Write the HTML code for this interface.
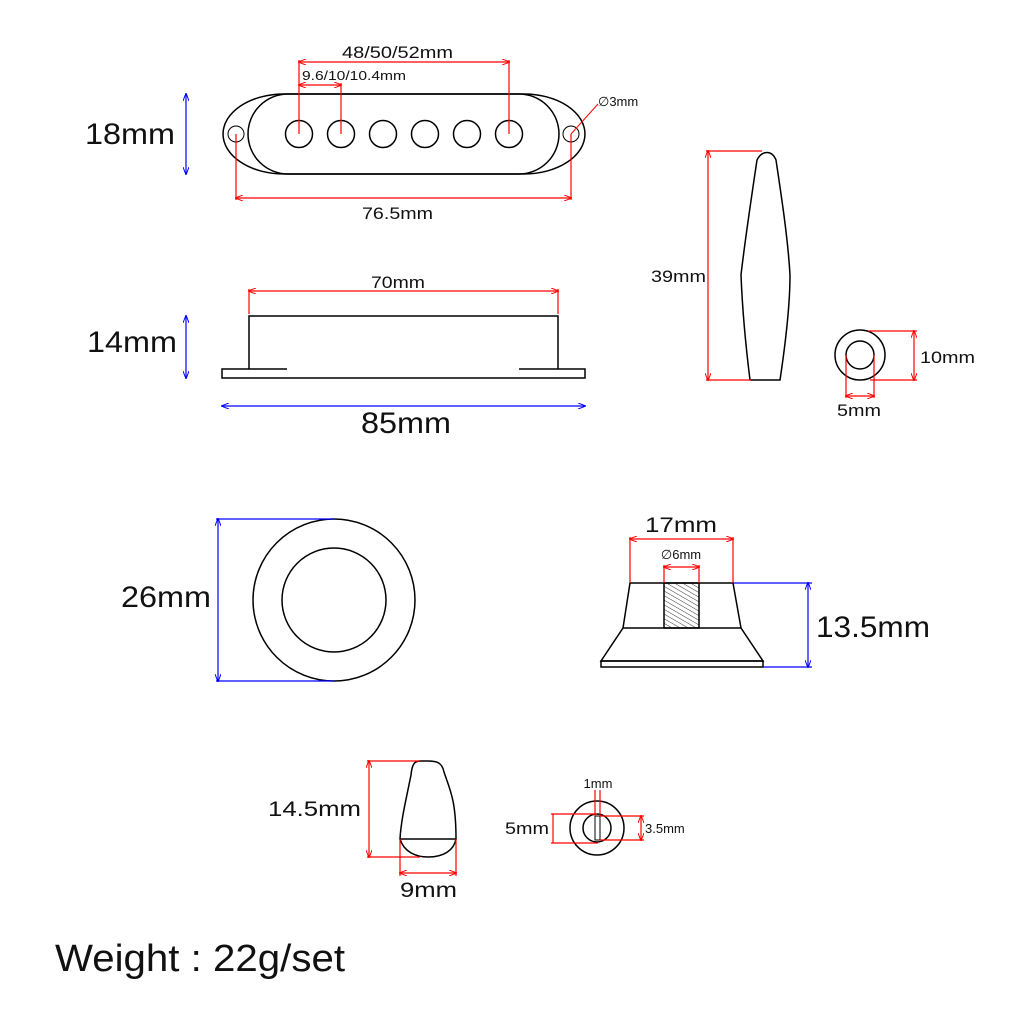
<!DOCTYPE html><html><head><style>body{margin:0;background:#fff}svg{display:block}text{font-family:"Liberation Sans","DejaVu Sans",sans-serif;fill:#111}</style></head><body>
<svg width="1024" height="1024" viewBox="0 0 1024 1024" xmlns="http://www.w3.org/2000/svg">
<defs>
<marker id="ar" markerWidth="8" markerHeight="6" refX="7" refY="3" orient="auto-start-reverse" markerUnits="userSpaceOnUse"><path d="M0,0 L8,3 L0,6" fill="none" stroke="red" stroke-width="1"/></marker>
<marker id="ab" markerWidth="8" markerHeight="6" refX="7" refY="3" orient="auto-start-reverse" markerUnits="userSpaceOnUse"><path d="M0,0 L8,3 L0,6" fill="none" stroke="blue" stroke-width="1"/></marker>
<pattern id="h" width="4" height="4" patternUnits="userSpaceOnUse" patternTransform="rotate(-60)"><line x1="0" y1="0" x2="0" y2="4" stroke="#333" stroke-width="1"/></pattern>
</defs>
<g fill="none" stroke="#000" stroke-width="1.5">
<path d="M284 94 H524 A61 40 0 0 1 524 174 H284 A61 40 0 0 1 284 94Z"/>
<path d="M288 94 H519 A40 40 0 0 1 519 174 H288 A40 40 0 0 1 288 94Z"/>
<circle cx="236" cy="134" r="8" stroke-width="1"/><circle cx="571" cy="134" r="8" stroke-width="1"/>
<circle cx="299" cy="134" r="13.5"/><circle cx="341" cy="134" r="13.5"/><circle cx="383" cy="134" r="13.5"/><circle cx="425" cy="134" r="13.5"/><circle cx="467" cy="134" r="13.5"/><circle cx="509" cy="134" r="13.5"/>
<path d="M249 369 V316 H558 V369"/>
<path d="M287 369 H222 V378 H585 V369 H519"/>
<path d="M750 380 H780 C786 340 790 300 790 275 C788 240 782 200 776 160 C772 150 762 150 757 160 C751 200 745 240 741 275 C742 300 745 340 750 380Z"/>
<circle cx="860" cy="355" r="25"/><circle cx="860" cy="355" r="14"/>
<circle cx="334" cy="600" r="81"/><circle cx="334" cy="600" r="52"/>
<path d="M630 583 H733 L741 628 H623 Z"/>
<path d="M623 628 L601 661 H763 L741 628"/>
<rect x="601" y="661" width="162" height="6"/>
<rect x="664" y="583" width="35" height="45" fill="url(#h)"/>
<path d="M400 839 H456 C456 800 450 790 444 772 C442 762 436 761 428 761 H420 C414 761 412 765 411 775 C406 800 401 820 400 839Z"/>
<path d="M400 839 C404 852 416 857 428 857 C444 857 454 850 456 839"/>
<circle cx="597" cy="828" r="27"/><circle cx="597" cy="828" r="14"/>
<rect x="595" y="816" width="5" height="24" stroke-width="1"/>
</g>
<g fill="none" stroke="red" stroke-width="1.2">
<line x1="299" y1="62" x2="509" y2="62" marker-start="url(#ar)" marker-end="url(#ar)"/>
<line x1="299" y1="60" x2="299" y2="134"/><line x1="509" y1="60" x2="509" y2="134"/>
<line x1="299" y1="85" x2="341" y2="85" marker-start="url(#ar)" marker-end="url(#ar)"/>
<line x1="341" y1="83" x2="341" y2="134"/>
<line x1="236" y1="198" x2="571" y2="198" marker-start="url(#ar)" marker-end="url(#ar)"/>
<line x1="236" y1="134" x2="236" y2="200"/><line x1="571" y1="134" x2="571" y2="200"/>
<line x1="571" y1="134" x2="598" y2="104" stroke-width="1"/>
<line x1="249" y1="291" x2="558" y2="291" marker-start="url(#ar)" marker-end="url(#ar)"/>
<line x1="249" y1="289" x2="249" y2="314"/><line x1="558" y1="289" x2="558" y2="314"/>
<line x1="708" y1="151" x2="708" y2="380" marker-start="url(#ar)" marker-end="url(#ar)"/>
<line x1="706" y1="151" x2="762" y2="151"/><line x1="706" y1="380" x2="751" y2="380"/>
<line x1="914" y1="331" x2="914" y2="380" marker-start="url(#ar)" marker-end="url(#ar)"/>
<line x1="868" y1="331" x2="917" y2="331"/><line x1="870" y1="380" x2="917" y2="380"/>
<line x1="846" y1="355" x2="846" y2="398"/><line x1="874" y1="355" x2="874" y2="398"/>
<line x1="846" y1="396" x2="874" y2="396" marker-start="url(#ar)" marker-end="url(#ar)"/>
<line x1="630" y1="539" x2="733" y2="539" marker-start="url(#ar)" marker-end="url(#ar)"/>
<line x1="630" y1="537" x2="630" y2="583"/><line x1="733" y1="537" x2="733" y2="583"/>
<line x1="664" y1="567" x2="699" y2="567" marker-start="url(#ar)" marker-end="url(#ar)"/>
<line x1="664" y1="565" x2="664" y2="583"/><line x1="699" y1="565" x2="699" y2="583"/>
<line x1="369" y1="761" x2="369" y2="857" marker-start="url(#ar)" marker-end="url(#ar)"/>
<line x1="367" y1="761" x2="420" y2="761"/><line x1="367" y1="857" x2="420" y2="857"/>
<line x1="400" y1="839" x2="400" y2="876"/><line x1="456" y1="839" x2="456" y2="876"/>
<line x1="400" y1="873" x2="456" y2="873" marker-start="url(#ar)" marker-end="url(#ar)"/>
<line x1="553" y1="814" x2="553" y2="843"/>
<line x1="551" y1="814" x2="597" y2="814"/><line x1="551" y1="843" x2="598" y2="843"/>
<line x1="641" y1="816" x2="641" y2="840" marker-start="url(#ar)" marker-end="url(#ar)"/>
<line x1="600" y1="816" x2="644" y2="816"/><line x1="600" y1="840" x2="644" y2="840"/>
<line x1="595" y1="790" x2="595" y2="816"/><line x1="600" y1="790" x2="600" y2="816"/>
</g>
<g fill="none" stroke="blue" stroke-width="1.2">
<line x1="186" y1="94" x2="186" y2="174" marker-start="url(#ab)" marker-end="url(#ab)"/>
<line x1="186" y1="316" x2="186" y2="378" marker-start="url(#ab)" marker-end="url(#ab)"/>
<line x1="222" y1="406" x2="585" y2="406" marker-start="url(#ab)" marker-end="url(#ab)"/>
<line x1="218" y1="519" x2="218" y2="681" marker-start="url(#ab)" marker-end="url(#ab)"/>
<line x1="216" y1="519" x2="334" y2="519"/><line x1="216" y1="681" x2="334" y2="681"/>
<line x1="808" y1="583" x2="808" y2="667" marker-start="url(#ab)" marker-end="url(#ab)"/>
<line x1="733" y1="583" x2="812" y2="583"/><line x1="763" y1="667" x2="812" y2="667"/>
</g>
<g lengthAdjust="spacingAndGlyphs">
<text x="342" y="58" font-size="17" textLength="111" lengthAdjust="spacingAndGlyphs">48/50/52mm</text>
<text x="302" y="80" font-size="13" textLength="104" lengthAdjust="spacingAndGlyphs">9.6/10/10.4mm</text>
<text x="598" y="106" font-size="13">∅3mm</text>
<text x="362" y="219" font-size="17" textLength="71" lengthAdjust="spacingAndGlyphs">76.5mm</text>
<text x="85" y="144" font-size="30" textLength="90" lengthAdjust="spacingAndGlyphs">18mm</text>
<text x="371" y="288" font-size="17" textLength="54" lengthAdjust="spacingAndGlyphs">70mm</text>
<text x="87" y="352" font-size="30" textLength="90" lengthAdjust="spacingAndGlyphs">14mm</text>
<text x="361" y="433" font-size="30" textLength="90" lengthAdjust="spacingAndGlyphs">85mm</text>
<text x="651" y="282" font-size="17" textLength="55" lengthAdjust="spacingAndGlyphs">39mm</text>
<text x="920" y="363" font-size="17" textLength="55" lengthAdjust="spacingAndGlyphs">10mm</text>
<text x="837" y="416" font-size="17" textLength="44" lengthAdjust="spacingAndGlyphs">5mm</text>
<text x="121" y="607" font-size="30" textLength="90" lengthAdjust="spacingAndGlyphs">26mm</text>
<text x="645" y="532" font-size="21" textLength="72" lengthAdjust="spacingAndGlyphs">17mm</text>
<text x="681" y="559" font-size="13" text-anchor="middle">∅6mm</text>
<text x="816" y="637" font-size="30" textLength="114" lengthAdjust="spacingAndGlyphs">13.5mm</text>
<text x="268" y="816" font-size="21" textLength="93" lengthAdjust="spacingAndGlyphs">14.5mm</text>
<text x="400" y="897" font-size="21" textLength="57" lengthAdjust="spacingAndGlyphs">9mm</text>
<text x="505" y="834" font-size="17" textLength="44" lengthAdjust="spacingAndGlyphs">5mm</text>
<text x="645" y="833" font-size="13">3.5mm</text>
<text x="598" y="788" font-size="13" text-anchor="middle">1mm</text>
<text x="55" y="971" font-size="38" textLength="290" lengthAdjust="spacingAndGlyphs">Weight : 22g/set</text>
</g>
</svg>
</body></html>
